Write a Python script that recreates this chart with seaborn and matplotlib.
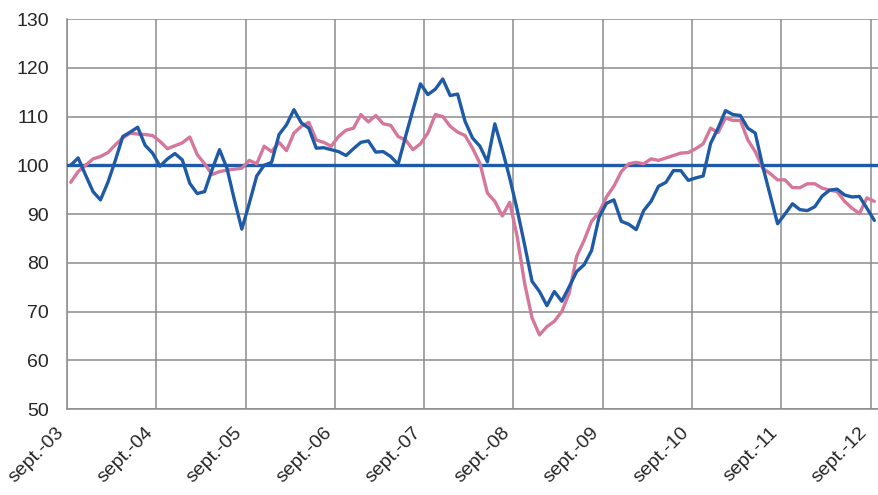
import pandas as pd
import matplotlib
matplotlib.use("Agg")
import matplotlib.pyplot as plt
import matplotlib.transforms as mtransforms
import seaborn as sns
import numpy as np

# --- Données (indices mensuels, sept. 2003 -> sept. 2012) ---

bleu = [100, 101.5, 98, 94.6, 92.9, 96.5, 101, 105.9, 106.8, 107.8,
        104.1, 102.5, 99.8, 101.3, 102.4, 101.1, 96.3, 94.2, 94.6, 99.1,
        103.2, 99.4, 92.9, 86.9, 92.2, 97.8, 100, 100.6, 106.3, 108.3,
        111.4, 108.7, 107.6, 103.5, 103.6, 103.2, 102.8, 102, 103.4, 104.7,
        105, 102.7, 102.8, 101.8, 100.2, 105.9, 111.4, 116.7, 114.5, 115.6,
        117.7, 114.3, 114.6, 109, 105.6, 103.9, 100.7, 108.5, 103.2, 97.4,
        90.9, 83.7, 76.2, 74.1, 71.2, 74.1, 72.1, 75.1, 78.2, 79.6,
        82.5, 89.3, 92.2, 92.9, 88.5, 87.9, 86.8, 90.7, 92.6, 95.7,
        96.5, 98.9, 98.9, 96.9, 97.4, 97.8, 104.5, 107.6, 111.2, 110.4,
        110.2, 107.6, 106.6, 99.8, 93.9, 88, 90, 92.1, 90.9, 90.7,
        91.5, 93.7, 94.9, 95.1, 93.9, 93.5, 93.6, 91.2, 88.7]

rose = [96.5, 98.7, 100, 101.3, 101.8, 102.6, 104.2, 105.6, 106.6, 106.4,
        106.3, 106.1, 104.9, 103.4, 104, 104.6, 105.8, 102.2, 100.3, 98.1,
        98.7, 99, 99.2, 99.4, 101, 100.3, 103.9, 102.8, 104.7, 103,
        106.6, 108, 108.8, 105.2, 104.7, 103.9, 105.9, 107.2, 107.6, 110.4,
        108.9, 110.2, 108.5, 108.2, 105.9, 105.2, 103.2, 104.4, 106.6, 110.4,
        110, 108, 106.8, 106.1, 103.5, 100.4, 94.3, 92.6, 89.6, 92.4,
        85.4, 75.8, 68.7, 65.2, 66.9, 68, 70, 73.8, 81.3, 84.6,
        88.5, 90.3, 93.5, 95.7, 98.7, 100.3, 100.6, 100.3, 101.3, 101,
        101.5, 102, 102.5, 102.6, 103.4, 104.4, 107.6, 106.7, 109.7, 109.2,
        109.2, 105.2, 102.8, 99.4, 98.3, 97, 97, 95.4, 95.4, 96.2,
        96.2, 95.3, 94.9, 94.6, 92.6, 91.2, 90.1, 93.3, 92.6]

etiquettes = ['sept.-03', 'sept.-04', 'sept.-05', 'sept.-06', 'sept.-07',
              'sept.-08', 'sept.-09', 'sept.-10', 'sept.-11', 'sept.-12']

reference = 100

# --- Mise en forme ---

sns.set_style("white")
plt.rcParams['font.family'] = ['Liberation Sans', 'DejaVu Sans']

mois = np.arange(len(bleu)) + 0.5
df = pd.DataFrame({'mois': mois, 'bleu': bleu, 'rose': rose})

fig = plt.figure(figsize=(8.79, 4.95), dpi=100)
ax = fig.add_axes([0.0762, 0.1737, 0.9227, 0.7879])

gris = '#8c8c8c'
bleu_c = '#1f5aa6'
rose_c = '#d5779a'

ax.axhline(reference, color=bleu_c, lw=2.4, zorder=3)
sns.lineplot(data=df, x='mois', y='rose', ax=ax, color=rose_c, lw=2.4, zorder=4)
sns.lineplot(data=df, x='mois', y='bleu', ax=ax, color=bleu_c, lw=2.4, zorder=5)

ax.set_xlim(0, len(bleu))
ax.set_ylim(50, 130)
ax.set_yticks(range(50, 131, 10))
ax.set_xticks(np.arange(0, 12 * len(etiquettes), 12))
ax.set_xticks(np.arange(6, len(bleu), 12), minor=True)
ax.set_xticklabels(etiquettes, rotation=45, ha='right', va='top', fontsize=14)
decalage = mtransforms.ScaledTranslation(8 / 100, 0, fig.dpi_scale_trans)
for lab in ax.get_xticklabels():
    lab.set_transform(lab.get_transform() + decalage)
ax.tick_params(axis='y', labelsize=14, length=0, pad=13)
ax.tick_params(axis='x', which='major', length=0, pad=11)
ax.tick_params(axis='x', which='minor', direction='in', length=4,
               color=gris, width=1.1)

ax.grid(True, which='major', color=gris, lw=1.1)
ax.set_axisbelow(True)
ax.set_xlabel('')
ax.set_ylabel('')
for cote in ['top', 'right']:
    ax.spines[cote].set_visible(False)
for cote in ['left', 'bottom']:
    ax.spines[cote].set_color(gris)
    ax.spines[cote].set_linewidth(1.1)

fig.savefig('out.png', dpi=100)
